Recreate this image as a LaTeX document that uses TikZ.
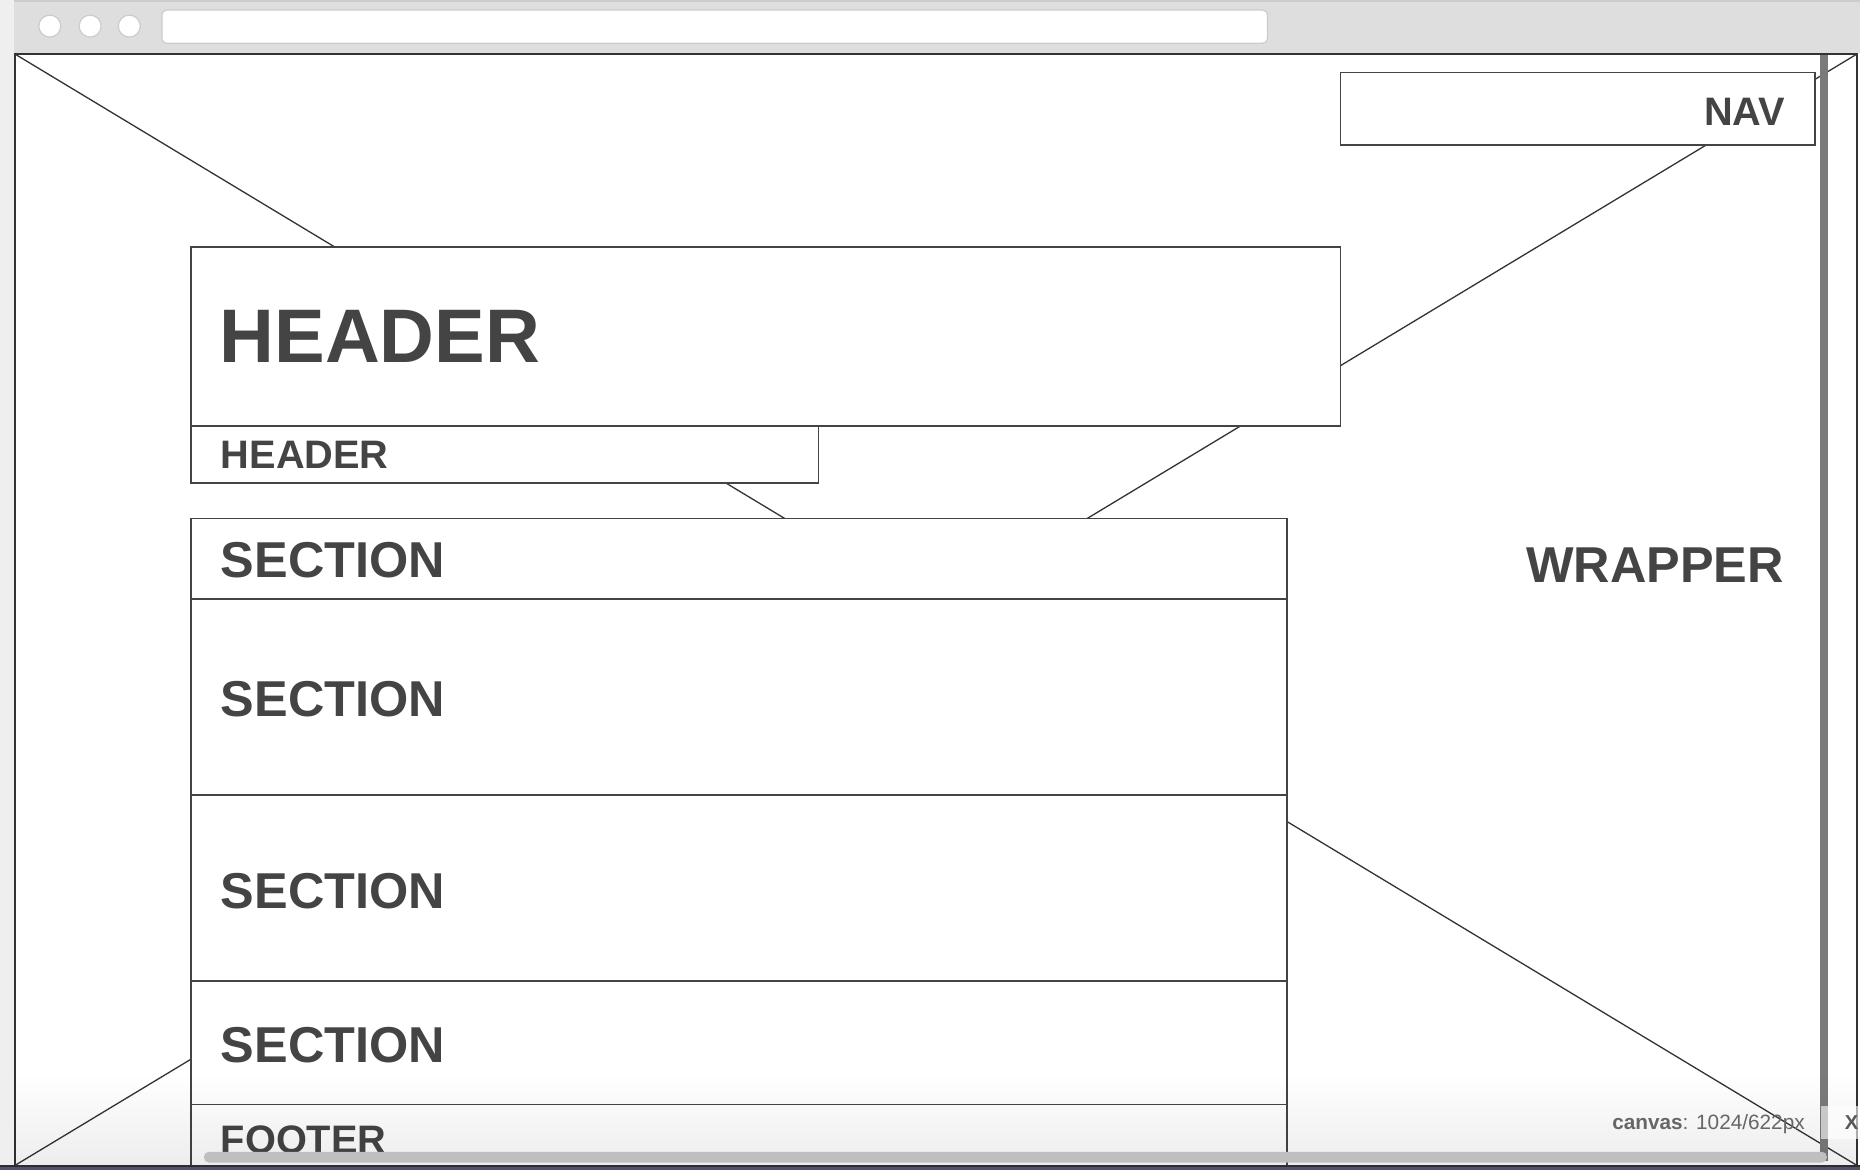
\documentclass[tikz,border=0pt]{standalone}
\usepackage{fontspec}
\setmainfont{Liberation Sans}
\usetikzlibrary{fadings}
\definecolor{ink}{HTML}{444444}
\definecolor{chrome}{HTML}{DEDEDE}
\definecolor{chromeline}{HTML}{CCCCCC}
\definecolor{sidebar}{HTML}{EFEFEF}
\definecolor{bardark}{HTML}{2E2A3A}
\definecolor{barpurple}{HTML}{57506A}
\newcommand\wfbig{\fontsize{64}{64}\selectfont\bfseries}
\newcommand\wfmid{\fontsize{42.5}{43}\selectfont\bfseries}
\newcommand\wfsmall{\fontsize{33.5}{34}\selectfont\bfseries}

\begin{document}
\begin{tikzpicture}[x=1pt, y=-1pt,
    box/.style={draw=ink, line width=1.4pt, fill=white, inner sep=0pt, outer sep=0pt, anchor=north west},
    diag/.style={draw=black!80, line width=1.1pt},
    lbl/.style={text=ink, inner sep=0pt, anchor=base west},
    dot/.style={circle, draw=chromeline, line width=1pt, fill=white, minimum size=18.5pt, inner sep=0pt}]
	\clip (0,0) rectangle (1568,986);
	% browser chrome
	\fill[sidebar] (0,0) rectangle (12,986);
	\fill[chrome] (12,0) rectangle (1568,45);
	\draw[chromeline, line width=1.5pt] (12,0.75) -- (1568,0.75);
	\node[dot] (b1) at (42,22) {};
	\node[dot] (b2) at (76,22) {};
	\node[dot] (b3) at (109,22) {};
	\node[draw=chromeline, line width=1pt, fill=white, rounded corners=4pt, minimum width=932pt, minimum height=28pt, inner sep=0pt, anchor=north west] (url) at (136,8) {};
	% canvas and its placeholder cross
	\node[box, draw=black!80, line width=1.6pt, minimum width=1553pt, minimum height=937pt] (canvas) at (12.5,45.5) {};
	\draw[diag] (canvas.north west) -- (canvas.south east);
	\draw[diag] (canvas.south west) -- (canvas.north east);
	% blocks
	\node[box, minimum width=400pt, minimum height=61pt] (nav) at (1130,61) {};
	\node[box, minimum width=969pt, minimum height=151pt] (header) at (161,208) {};
	\node[box, minimum width=529pt, minimum height=48pt] (subheader) at (161,359) {};
	\node[box, minimum width=924pt, minimum height=68pt] (sec1) at (161,437) {};
	\node[box, minimum width=924pt, minimum height=165pt] (sec2) at (161,505) {};
	\node[box, minimum width=924pt, minimum height=157pt] (sec3) at (161,670) {};
	\node[box, minimum width=924pt, minimum height=104pt] (sec4) at (161,827) {};
	\node[box, minimum width=924pt, minimum height=70pt] (footer) at (161,931) {};
	\node[lbl, font=\wfsmall, anchor=base east] (navtxt) at (1505,106) {NAV};
	\node[lbl, font=\wfbig] (headertxt) at (185,306) {HEADER};
	\node[lbl, font=\wfsmall] (subheadertxt) at (186,395) {HEADER};
	\node[lbl, font=\wfmid] (sec1txt) at (186,487) {SECTION};
	\node[lbl, font=\wfmid] (sec2txt) at (186,604) {SECTION};
	\node[lbl, font=\wfmid] (sec3txt) at (186,766) {SECTION};
	\node[lbl, font=\wfmid] (sec4txt) at (186,896) {SECTION};
	\node[lbl, font=\wfsmall] (footertxt) at (186,972.5) {FOOTER};
	\node[lbl, font=\wfmid, anchor=base east] (wrappertxt) at (1504,491) {WRAPPER};
	% scrollbars and status line
	\fill[black!52] (1534.5,46) rectangle (1541,979);
	\fill[black, opacity=0.07, path fading=north] (12,905) rectangle (1568,982);
	\fill[black!25, rounded corners=4pt] (172,971) rectangle (1540,980);
	\node[inner sep=0pt, anchor=base west, text=black!60, font=\fontsize{17.5}{18}\selectfont] (canvasinfo) at (1359,952) {\textbf{canvas}: 1024/622px};
	\fill[white, opacity=0.6] (1535,932) rectangle (1568,960);
	\node[inner sep=0pt, anchor=base west, text=black!65, font=\fontsize{17}{17}\selectfont\bfseries] (closebtn) at (1555,952) {X};
	\fill[bardark] (0,982) rectangle (1568,983.5);
	\fill[barpurple] (0,983.5) rectangle (1568,986);
\end{tikzpicture}
\end{document}
